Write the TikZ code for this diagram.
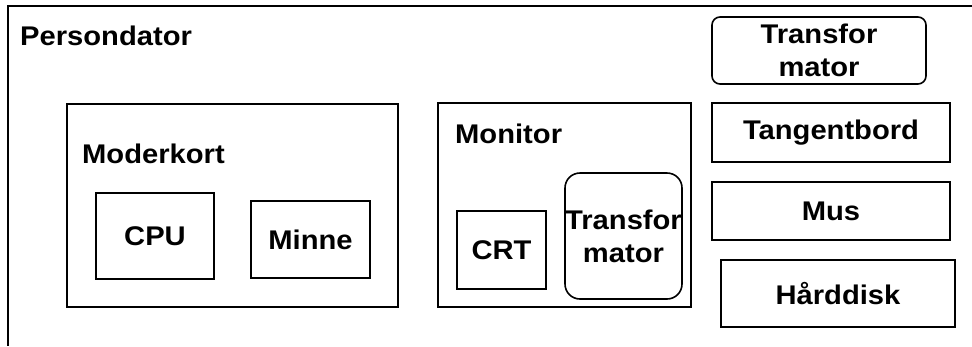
\documentclass[tikz,border=0pt]{standalone}
\usepackage{fontspec}
\setmainfont[FakeStretch=1.08]{Liberation Sans}
\begin{document}
\begin{tikzpicture}[x=1pt,y=-1pt,
  every node/.style={font=\fontsize{27}{33}\selectfont\bfseries, inner sep=0pt},
  frame/.style={draw, line width=1.6pt},
  box/.style={frame, rectangle},
  rbox/.style={frame, rectangle, rounded corners=#1},
  lbl/.style={anchor=base west}]
\useasboundingbox (0,0) rectangle (972,346);

% open outer frame of the computer
\coordinate (topright) at (972,6);
\coordinate (corner) at (8,6);
\coordinate (botleft) at (8,346);
\draw[line width=2.2pt] (topright) -- (corner) -- (botleft);
\node[lbl] (pc) at (20,45) {Persondator};

% motherboard
\node[box, minimum width=331pt, minimum height=203pt] (moder) at (232.5,205.5) {};
\node[lbl] (moderlbl) at (82,163) {Moderkort};
\node[box, minimum width=118pt, minimum height=86pt] (cpu) at (155,236) {CPU};
\node[box, minimum width=119pt, minimum height=77pt] (minne) at (310.5,239.5) {Minne};

% monitor
\node[box, minimum width=253pt, minimum height=204pt] (monitor) at (564.5,205) {};
\node[lbl] (monlbl) at (455,143) {Monitor};
\node[box, minimum width=89pt, minimum height=78pt] (crt) at (501.5,250) {CRT};
\node[rbox=15pt, minimum width=117pt, minimum height=126pt, align=center] (trafo2) at (623.5,236) {Transfor\\mator};

% peripherals
\node[rbox=8pt, minimum width=214pt, minimum height=67pt, align=center] (trafo1) at (819,50.5) {Transfor\\mator};
\node[box, minimum width=238pt, minimum height=59pt] (tangent) at (831,132.5) {Tangentbord};
\node[box, minimum width=238pt, minimum height=58pt] (mus) at (831,211) {Mus};
\node[box, minimum width=234pt, minimum height=67pt] (hdd) at (838,293.5) {Hårddisk};
\end{tikzpicture}
\end{document}
